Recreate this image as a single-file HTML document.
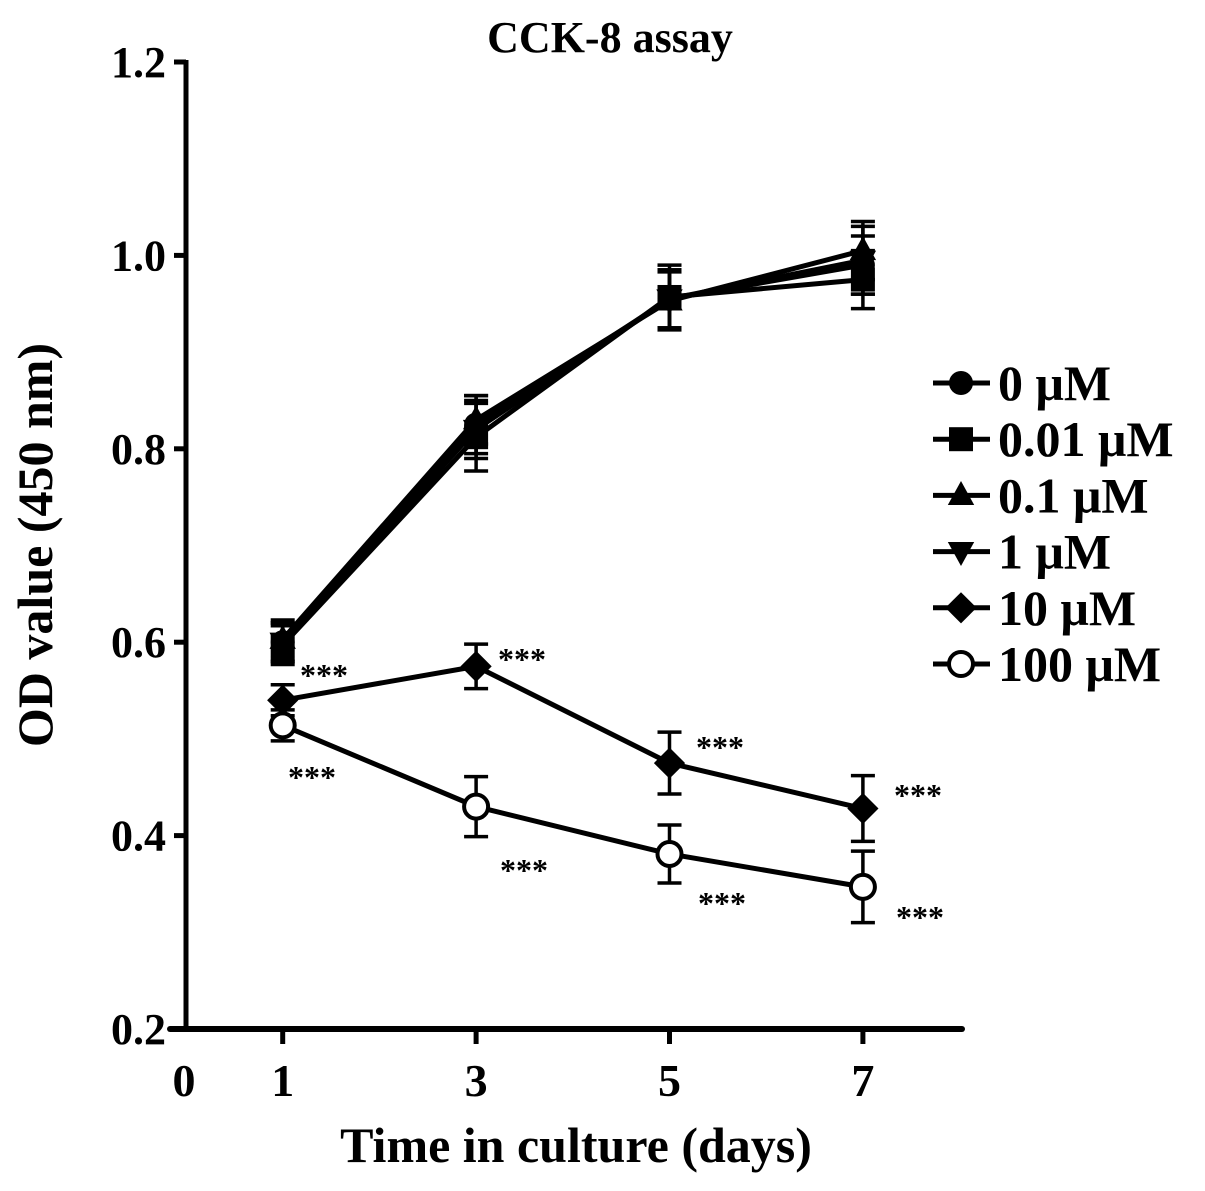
<!DOCTYPE html>
<html><head><meta charset="utf-8"><style>
body{margin:0;background:#fff}
svg text{font-family:"Liberation Serif",serif;font-weight:bold;fill:#000}
</style></head><body>
<svg width="1205" height="1186" viewBox="0 0 1205 1186">
<g id="g"></g>
</svg>
<script>
const days=[1,3,5,7];
const seriesNames=["0 μM","0.01 μM","0.1 μM","1 μM","10 μM","100 μM"];
const markers=["circle","square","triangle","tridown","diamond","open"];
const v0=[0.600,0.825,0.955,0.990];
const v001=[0.597,0.812,0.957,0.975];
const v01=[0.603,0.830,0.953,1.005];
const v1=[0.600,0.820,0.955,0.995];
const v10=[0.540,0.575,0.475,0.428];
const v100=[0.514,0.430,0.381,0.347];
const e0=[0.02,0.03,0.03,0.03];
const e001=[0.02,0.035,0.033,0.03];
const e01=[0.02,0.025,0.03,0.03];
const e1=[0.02,0.03,0.03,0.035];
const e10=[0.016,0.023,0.032,0.034];
const e100=[0.016,0.031,0.03,0.037];
const yTicks=[0.2,0.4,0.6,0.8,1.0,1.2];
const yTickLabels=["0.2","0.4","0.6","0.8","1.0","1.2"];
const xTicks=[1,3,5,7];
const xTickLabels=["1","3","5","7"];
const values=[v0,v001,v01,v1,v10,v100];
const errs=[e0,e001,e01,e1,e10,e100];
const sx=d=>186+d*96.7;
const sy=v=>1029-(v-0.2)*967;
const NS="http://www.w3.org/2000/svg";
const g=document.getElementById('g');
function mk(t,a,txt){const e=document.createElementNS(NS,t);for(const k in a)e.setAttribute(k,a[k]);if(txt!=null)e.textContent=txt;g.appendChild(e);return e;}
let e;
e=mk('text',{x:610,y:52,'font-size':44,'text-anchor':'middle'},'CCK-8 assay');


e=mk('line',{x1:186,y1:60,x2:186,y2:1031,stroke:'#000','stroke-width':5});


e=mk('line',{x1:170,y1:1029,x2:962,y2:1029,stroke:'#000','stroke-width':6,'stroke-linecap':'round'});


yTicks.forEach((t,i)=>{
 e=mk('line',{x1:174,y1:sy(t),x2:186,y2:sy(t),stroke:'#000','stroke-width':5});
 
 
 e=mk('text',{x:166,y:sy(t)+15,'font-size':44,'text-anchor':'end'},yTickLabels[i]);
 
 
});
e=mk('text',{x:184,y:1096,'font-size':46,'text-anchor':'middle'},'0');


xTicks.forEach((t,i)=>{
 e=mk('line',{x1:sx(t),y1:1029,x2:sx(t),y2:1044,stroke:'#000','stroke-width':5});
 
 
 e=mk('text',{x:sx(t),y:1096,'font-size':46,'text-anchor':'middle'},xTickLabels[i]);
 
 
});
e=mk('text',{x:576,y:1162,'font-size':50,'text-anchor':'middle'},'Time in culture (days)');


e=mk('text',{x:0,y:0,'font-size':50,'text-anchor':'middle',transform:'translate(52,545) rotate(-90)'},'OD value (450 nm)');


function marker(type,x,y,s){
 let el;
 if(type==='circle')el=mk('circle',{cx:x,cy:y,r:s,fill:'#000'});
 else if(type==='square')el=mk('rect',{x:x-s,y:y-s,width:2*s,height:2*s,fill:'#000'});
 else if(type==='triangle')el=mk('polygon',{points:`${x},${y-s*1.2} ${x-s*1.1},${y+s*0.8} ${x+s*1.1},${y+s*0.8}`,fill:'#000'});
 else if(type==='tridown')el=mk('polygon',{points:`${x},${y+s*1.2} ${x-s*1.1},${y-s*0.8} ${x+s*1.1},${y-s*0.8}`,fill:'#000'});
 else if(type==='diamond')el=mk('polygon',{points:`${x},${y-s*1.3} ${x+s*1.3},${y} ${x},${y+s*1.3} ${x-s*1.3},${y}`,fill:'#000'});
 else el=mk('circle',{cx:x,cy:y,r:s,fill:'#fff',stroke:'#000','stroke-width':4});
 return el;
}
values.forEach((vals,si)=>{
 const pts=days.map((d,i)=>sx(d)+','+sy(vals[i])).join(' ');
 e=mk('polyline',{points:pts,fill:'none',stroke:'#000','stroke-width':5});
 
 
 days.forEach((d,i)=>{
  const x=sx(d),y1=sy(vals[i]+errs[si][i]),y2=sy(vals[i]-errs[si][i]);
  e=mk('path',{d:`M${x},${y1}V${y2}M${x-12},${y1}H${x+12}M${x-12},${y2}H${x+12}`,stroke:'#000','stroke-width':3.5,fill:'none'});
  
  
  e=marker(markers[si],x,sy(vals[i]),12);
  
  
 });
});
const stars=[[300,686],[498,670],[696,758],[894,806],[288,788],[500,881],[698,914],[896,928]];
stars.forEach(p=>{
 e=mk('text',{x:p[0],y:p[1],'font-size':32,'font-weight':'normal'},'***');
 
 
});
seriesNames.forEach((n,i)=>{
 const y=383+i*56.2;
 e=mk('line',{x1:933,y1:y,x2:990,y2:y,stroke:'#000','stroke-width':5});
 
 
 e=marker(markers[i],961,y,12);
 
 
 e=mk('text',{x:998,y:y+17,'font-size':50},n);
 
 
});
</script>
</body></html>
